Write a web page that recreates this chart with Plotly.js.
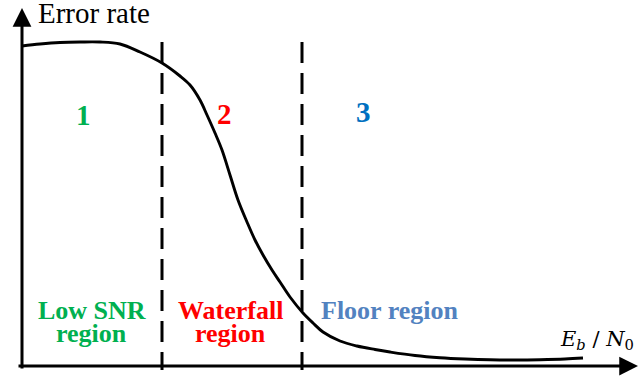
<!DOCTYPE html>
<html>
<head>
<meta charset="utf-8">
<script src="https://cdn.plot.ly/plotly-3.0.1.min.js"></script>
<style>html,body{margin:0;padding:0;background:#fff;}#chart{width:640px;height:379px;}</style>
</head>
<body>
<div id="chart"></div>
<script>
// Schematic error-rate curve (arbitrary units: x = Eb/N0, y = error rate)
const curveX = [0, 18, 38, 58, 78, 98, 118, 140, 158, 168, 178, 185, 193, 200, 208, 216, 225, 233, 241, 250, 258, 268, 281, 291, 301, 318, 335, 353, 368, 393, 418, 443, 468, 493, 518, 543, 561];
const curveY = [320, 322, 323.5, 324, 324, 322, 314, 303, 290, 281, 266, 251, 233, 216, 191, 166, 144, 126, 111, 96, 84, 69, 53, 43, 34, 25, 20, 16.5, 14, 10.5, 8.3, 7, 6.2, 6, 6.3, 7, 8];

// Region boundaries
const boundaries = [140, 280];
const boundaryTop = 324;
const boundaryBottom = -4;

// Region labels
const regionNumbers = ['1', '2', '3'];
const regionNameLine1 = ['Low SNR', 'Waterfall', 'Floor region'];
const regionNameLine2 = ['region', 'region', ''];
const regionColors = ['#00B050', '#FF0000', '#0070C0'];
const regionNameColors = ['#00B050', '#FF0000', '#5282C0'];
const numberX = [61, 202, 341];
const numberY = [251, 252, 254];
const nameX = [69.5, 208, 367.5];
const nameLine1Y = [56, 56, 56];
const nameLine2Y = [33, 33, 33];

const yAxisTitle = 'Error rate';
const xAxisTitle = '<i>E<sub>b</sub></i> / <i>N</i><sub>0</sub>';

const traces = [
  {x: curveX, y: curveY, mode: 'lines', line: {color: '#000', width: 2.9, shape: 'spline', smoothing: 1}, hoverinfo: 'skip'}
];
boundaries.forEach(b => traces.push({
  x: [b, b], y: [boundaryTop, boundaryBottom], mode: 'lines',
  line: {color: '#000', width: 3, dash: '21px,10px'}, hoverinfo: 'skip'
}));

const serif = 'Liberation Serif, serif';
const annotations = [
  // axes with arrowheads
  {x: 0, y: 358, ax: 0, ay: -4, xref: 'x', yref: 'y', axref: 'x', ayref: 'y', text: '', showarrow: true, arrowhead: 2, arrowsize: 1.25, arrowwidth: 3, arrowcolor: '#000', standoff: 0},
  {x: 616, y: 0, ax: -5, ay: 0, xref: 'x', yref: 'y', axref: 'x', ayref: 'y', text: '', showarrow: true, arrowhead: 2, arrowsize: 1.25, arrowwidth: 3, arrowcolor: '#000', standoff: 0},
  {x: 14, y: 353, xref: 'x', yref: 'y', text: yAxisTitle, showarrow: false, xanchor: 'left', yanchor: 'middle', font: {family: serif, size: 29, color: '#000'}},
  {x: 536, y: 26, xref: 'x', yref: 'y', text: xAxisTitle, showarrow: false, xanchor: 'left', yanchor: 'middle', font: {family: 'DejaVu Serif, serif', size: 21, color: '#000'}}
];
regionNumbers.forEach((t, i) => annotations.push({
  x: numberX[i], y: numberY[i], xref: 'x', yref: 'y', text: '<b>' + t + '</b>', showarrow: false,
  font: {family: serif, size: 29, color: regionColors[i]}
}));
regionNameLine1.forEach((t, i) => annotations.push({
  x: nameX[i], y: nameLine1Y[i], xref: 'x', yref: 'y', text: '<b>' + t + '</b>', showarrow: false,
  font: {family: serif, size: 26, color: regionNameColors[i]}
}));
regionNameLine2.forEach((t, i) => { if (t) annotations.push({
  x: nameX[i], y: nameLine2Y[i], xref: 'x', yref: 'y', text: '<b>' + t + '</b>', showarrow: false,
  font: {family: serif, size: 26, color: regionNameColors[i]}
}); });

const layout = {
  width: 640, height: 379,
  margin: {l: 0, r: 0, t: 0, b: 0},
  paper_bgcolor: '#fff', plot_bgcolor: '#fff',
  showlegend: false,
  xaxis: {range: [-22, 618], visible: false, fixedrange: true},
  yaxis: {range: [-13, 366], visible: false, fixedrange: true},
  annotations: annotations
};
Plotly.newPlot('chart', traces, layout, {displayModeBar: false, staticPlot: true});
</script>
</body>
</html>
